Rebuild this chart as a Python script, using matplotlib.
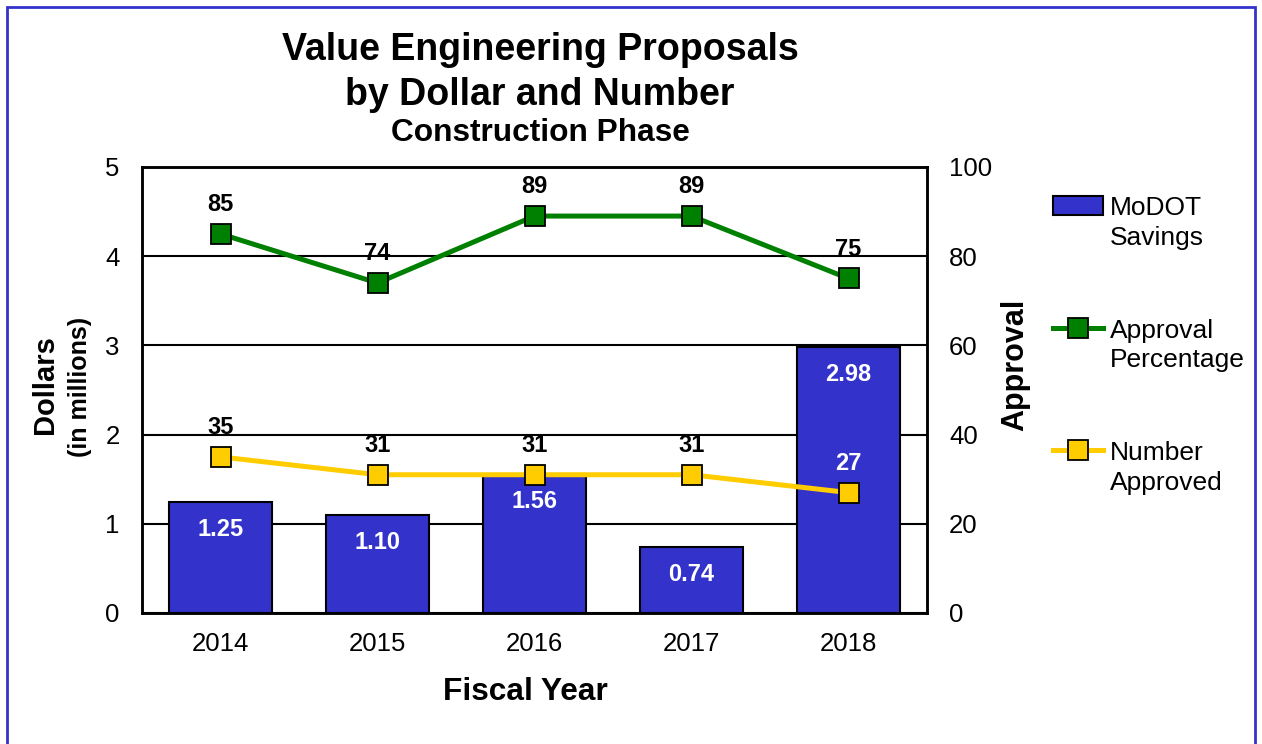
import numpy as np
import matplotlib
matplotlib.use("Agg")
import matplotlib.pyplot as plt
from matplotlib.patches import Rectangle

plt.rcParams["font.family"] = ["Liberation Sans", "DejaVu Sans"]

# ---------------------------------------------------------------------------
# Data
# ---------------------------------------------------------------------------
years = ["2014", "2015", "2016", "2017", "2018"]
savings = [1.25, 1.10, 1.56, 0.74, 2.98]          # millions of dollars
approval_pct = [85, 74, 89, 89, 75]
number_approved = [35, 31, 31, 31, 27]

BAR_BLUE = "#3333CC"
GREEN = "#008000"
YELLOW = "#FFCC00"

fig = plt.figure(figsize=(12.62, 7.44), dpi=100)
ax = fig.add_axes([142 / 1262, 1 - 613 / 744, 785 / 1262, 446 / 744])
ax2 = ax.twinx()

x = np.arange(len(years))

# Bars (left axis)
bars = ax.bar(x, savings, width=0.66, color=BAR_BLUE, edgecolor="black",
              linewidth=1.5, zorder=3, label="MoDOT\nSavings")
for xi, v in zip(x, savings):
    ax.annotate(f"{v:.2f}", (xi, v), xytext=(0, -20), textcoords="offset points",
                ha="center", va="center", color="white", fontsize=17,
                fontweight="bold", zorder=5)

ax.set_ylim(0, 5)
ax.set_xlim(-0.5, len(years) - 0.5)
ax.set_yticks(range(0, 6))
ax.set_xticks(x)
ax.set_xticklabels(years)
ax.yaxis.grid(True, color="black", linewidth=1.5, zorder=0)
ax.set_axisbelow(True)
ax.tick_params(axis="both", length=0, labelsize=18.5)
ax.tick_params(axis="y", pad=16)
ax.tick_params(axis="x", pad=14)

# Lines (right axis)
ln1, = ax2.plot(x, approval_pct, color=GREEN, lw=3.6, marker="s", ms=15,
                mfc=GREEN, mec="black", mew=1.3, zorder=4,
                label="Approval\nPercentage")
ln2, = ax2.plot(x, number_approved, color=YELLOW, lw=3.6, marker="s", ms=15,
                mfc=YELLOW, mec="black", mew=1.3, zorder=4,
                label="Number\nApproved")
for xi, v in zip(x, approval_pct):
    ax2.annotate(f"{v}", (xi, v), xytext=(0, 21), textcoords="offset points",
                 ha="center", va="center", fontsize=17, fontweight="bold")
for xi, v, s in zip(x, number_approved, savings):
    # label sits inside the bar only when the bar reaches above it
    inside = s * 20 > v + 6
    ax2.annotate(f"{v}", (xi, v), xytext=(0, 21), textcoords="offset points",
                 ha="center", va="center", fontsize=17, fontweight="bold",
                 color="white" if inside else "black", zorder=6)

ax2.set_ylim(0, 100)
ax2.set_yticks(range(0, 101, 20))
ax2.tick_params(axis="y", length=0, labelsize=18.5, pad=16)

for a in (ax, ax2):
    for sp in a.spines.values():
        sp.set_linewidth(1.8)
        sp.set_color("black")

# Axis titles
fig.text(525 / 1262, 1 - 692 / 744, "Fiscal Year", ha="center", va="center",
         fontsize=22.8, fontweight="bold")
fig.text(45 / 1262, 1 - 385 / 744, "Dollars", rotation=90, ha="center",
         va="center", fontsize=21, fontweight="bold")
fig.text(80 / 1262, 1 - 387 / 744, "(in millions)", rotation=90, ha="center",
         va="center", fontsize=18, fontweight="bold")
fig.text(1015 / 1262, 1 - 365 / 744, "Approval", rotation=90, ha="center",
         va="center", fontsize=22, fontweight="bold")

# Titles
fig.text(540 / 1262, 1 - 50 / 744, "Value Engineering Proposals", ha="center",
         va="center", fontsize=27, fontweight="bold")
fig.text(540 / 1262, 1 - 95 / 744, "by Dollar and Number", ha="center",
         va="center", fontsize=27, fontweight="bold")
fig.text(540 / 1262, 1 - 133 / 744, "Construction Phase", ha="center",
         va="center", fontsize=22.8, fontweight="bold")

# Legend
leg = fig.legend(handles=[bars, ln1, ln2], loc="upper left",
                 bbox_to_anchor=(1040 / 1262, 1 - 183 / 744), frameon=False,
                 fontsize=19, labelspacing=2.6, handlelength=1.9,
                 handletextpad=0.25, borderpad=0)
for t in leg.get_texts():
    t.set_linespacing(1.3)
# put each handle beside the first line of its two-line label
for col in leg._legend_handle_box.get_children():
    for row in col.get_children():
        row.align = "top"

# Outer border
fig.add_artist(Rectangle((7 / 1262, -0.05), 1248 / 1262, 1.05 - 7 / 744,
                         transform=fig.transFigure, fill=False,
                         edgecolor=BAR_BLUE, linewidth=2, clip_on=False))

fig.savefig("out.png", dpi=100)
